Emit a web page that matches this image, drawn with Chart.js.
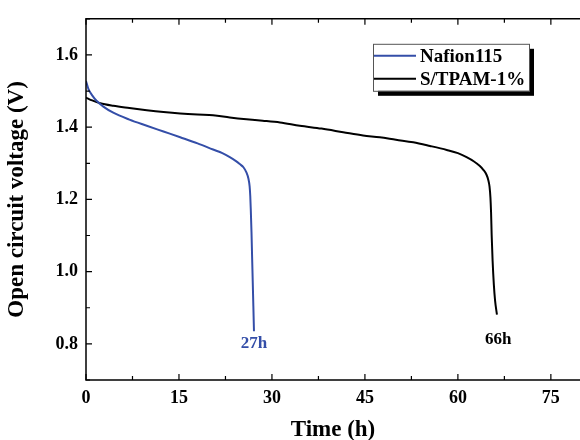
<!DOCTYPE html>
<html>
<head>
<meta charset="utf-8">
<script src="https://cdn.jsdelivr.net/npm/chart.js@4/dist/chart.umd.min.js"></script>
<style>
  html, body { margin: 0; padding: 0; background: #fff; }
  #wrap { width: 580px; height: 440px; }
</style>
</head>
<body>
<div id="wrap"><canvas id="grafica"></canvas></div>
<script>
// Datos
const nafionTime = [0, 0.4, 1.0, 1.7, 2.8, 4.4, 7.0, 9.8, 12.5, 15.2, 18.0, 20.5, 22.0, 23.2, 24.2, 24.8, 25.4, 25.9, 26.2, 26.4, 26.5, 26.58, 26.7, 26.8, 26.9, 27.0, 27.1];
const nafionVolt = [1.528, 1.505, 1.488, 1.473, 1.457, 1.440, 1.421, 1.404, 1.388, 1.372, 1.355, 1.338, 1.328, 1.317, 1.306, 1.298, 1.289, 1.274, 1.258, 1.236, 1.210, 1.175, 1.110, 1.040, 0.973, 0.905, 0.835];

const tpamTime = [0, 1.0, 2.3, 4.4, 7.0, 9.8, 12.5, 15.2, 18.0, 20.5, 23.2, 25.9, 28.5, 31.3, 34.5, 38.0, 41.5, 44.7, 47.4, 50.0, 52.8, 55.5, 58.2, 60.0, 61.4, 62.6, 63.5, 64.1, 64.6, 64.9, 65.1, 65.25, 65.35, 65.45, 65.6, 65.8, 66.0, 66.3];
const tpamVolt = [1.482, 1.474, 1.466, 1.459, 1.453, 1.447, 1.442, 1.438, 1.435, 1.433, 1.427, 1.422, 1.418, 1.413, 1.404, 1.396, 1.386, 1.377, 1.372, 1.365, 1.358, 1.348, 1.337, 1.328, 1.317, 1.305, 1.293, 1.282, 1.269, 1.254, 1.236, 1.205, 1.165, 1.101, 1.030, 0.964, 0.920, 0.881];

const nombresSeries = ['Nafion115', 'S/TPAM-1%'];
const coloresSeries = ['rgb(52, 78, 168)', 'rgb(0, 0, 0)'];

const xTicks = [0, 15, 30, 45, 60, 75];
const xMinor = [7.5, 22.5, 37.5, 52.5, 67.5];
const yTicks = [0.8, 1.0, 1.2, 1.4, 1.6];
const yMinor = [0.7, 0.9, 1.1, 1.3, 1.5, 1.7];

// Etiquetas de duración: texto, tiempo, voltaje
const etiquetasTexto = ['27h', '66h'];
const etiquetasTiempo = [27.1, 66.5];
const etiquetasVolt = [0.802, 0.813];

const fuente = '"Liberation Serif", "Times New Roman", serif';

const puntos = (xs, ys) => xs.map((x, i) => ({ x: x, y: ys[i] }));

// Marco, ticks hacia dentro, leyenda y etiquetas
const plugMarco = {
    id: 'marco',
    afterDatasetsDraw(chart) {
        const ctx = chart.ctx;
        const a = chart.chartArea;
        const xs = chart.scales.x, ys = chart.scales.y;
        ctx.save();
        ctx.strokeStyle = '#000';
        ctx.lineWidth = 1.5;
        ctx.beginPath();
        ctx.moveTo(a.right + 2, a.top);
        ctx.lineTo(a.left, a.top);
        ctx.lineTo(a.left, a.bottom);
        ctx.lineTo(a.right + 2, a.bottom);
        ctx.stroke();
        ctx.lineWidth = 1.2;
        ctx.beginPath();
        xTicks.forEach(v => { const p = xs.getPixelForValue(v); ctx.moveTo(p, a.bottom); ctx.lineTo(p, a.bottom - 6); ctx.moveTo(p, a.top); ctx.lineTo(p, a.top + 6); });
        xMinor.forEach(v => { const p = xs.getPixelForValue(v); ctx.moveTo(p, a.bottom); ctx.lineTo(p, a.bottom - 4); ctx.moveTo(p, a.top); ctx.lineTo(p, a.top + 4); });
        yTicks.forEach(v => { const p = ys.getPixelForValue(v); ctx.moveTo(a.left, p); ctx.lineTo(a.left + 6, p); });
        yMinor.forEach(v => { const p = ys.getPixelForValue(v); ctx.moveTo(a.left, p); ctx.lineTo(a.left + 4, p); });
        ctx.stroke();

        // etiquetas 27h / 66h
        ctx.font = 'bold 17px ' + fuente;
        ctx.textAlign = 'center';
        ctx.textBaseline = 'middle';
        etiquetasTexto.forEach((t, i) => {
            ctx.fillStyle = coloresSeries[i];
            ctx.fillText(t, xs.getPixelForValue(etiquetasTiempo[i]), ys.getPixelForValue(etiquetasVolt[i]));
        });

        // leyenda con sombra
        const bx = a.left + 287, by = a.top + 25, bw = 156, bh = 47;
        ctx.fillStyle = '#000';
        ctx.fillRect(bx + 5, by + 5, bw, bh);
        ctx.fillStyle = '#fff';
        ctx.fillRect(bx, by, bw, bh);
        ctx.strokeStyle = '#555';
        ctx.lineWidth = 1;
        ctx.strokeRect(bx + 0.5, by + 0.5, bw, bh);
        ctx.font = 'bold 19px ' + fuente;
        ctx.textAlign = 'left';
        nombresSeries.forEach((n, i) => {
            const yy = by + 12 + i * 23;
            ctx.strokeStyle = coloresSeries[i];
            ctx.lineWidth = 2;
            ctx.beginPath();
            ctx.moveTo(bx + 1, yy);
            ctx.lineTo(bx + 43, yy);
            ctx.stroke();
            ctx.fillStyle = '#000';
            ctx.fillText(n, bx + 47, yy + 1);
        });
        ctx.restore();
    }
};

const ctx = document.getElementById('grafica').getContext('2d');
window.miGrafica = new Chart(ctx, {
    type: 'scatter',
    data: {
        datasets: [{
            label: nombresSeries[0],
            data: puntos(nafionTime, nafionVolt),
            borderColor: coloresSeries[0],
            borderWidth: 2,
            showLine: true,
            pointRadius: 0,
            cubicInterpolationMode: 'monotone'
        },
        {
            label: nombresSeries[1],
            data: puntos(tpamTime, tpamVolt),
            borderColor: coloresSeries[1],
            borderWidth: 2,
            showLine: true,
            pointRadius: 0,
            cubicInterpolationMode: 'monotone'
        }]
    },
    options: {
        responsive: true,
        maintainAspectRatio: false,
        animation: false,
        layout: { padding: { top: 15, right: 0, left: 0, bottom: 0 } },
        plugins: { legend: { display: false }, tooltip: { enabled: false } },
        scales: {
            x: {
                type: 'linear',
                min: 0,
                max: 79.7,
                afterBuildTicks: (axis) => { axis.ticks = xTicks.map(v => ({ value: v })); },
                afterFit: (scale) => { scale.height = 60; },
                grid: { display: false, drawTicks: false },
                border: { display: false },
                ticks: { color: '#000', padding: 8, maxRotation: 0, font: { family: fuente, size: 18, weight: 'bold' } },
                title: { display: true, text: 'Time (h)', color: '#000', padding: { top: 0, bottom: -2 }, font: { family: fuente, size: 23, weight: 'bold', lineHeight: 1 } }
            },
            y: {
                type: 'linear',
                min: 0.7,
                max: 1.7,
                afterBuildTicks: (axis) => { axis.ticks = yTicks.map(v => ({ value: v })); },
                afterFit: (scale) => { scale.width = 86; },
                grid: { display: false, drawTicks: false },
                border: { display: false },
                ticks: { color: '#000', padding: 8, callback: (v) => v.toFixed(1), font: { family: fuente, size: 18, weight: 'bold' } },
                title: { display: true, text: 'Open circuit voltage (V)', color: '#000', padding: { top: 6, bottom: 0 }, font: { family: fuente, size: 23, weight: 'bold', lineHeight: 1 } }
            }
        }
    },
    plugins: [plugMarco]
});
</script>
</body>
</html>
